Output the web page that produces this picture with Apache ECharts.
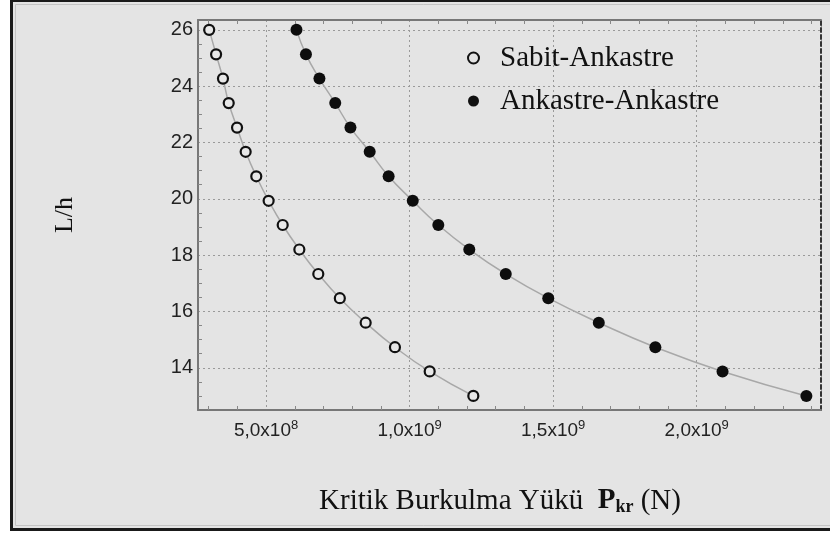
<!DOCTYPE html>
<html>
<head>
<meta charset="utf-8">
<script src="https://cdn.jsdelivr.net/npm/echarts@6/dist/echarts.min.js"></script>
<style>
  html, body { margin: 0; padding: 0; background: #fff; }
  #chart { width: 830px; height: 536px; }
</style>
</head>
<body>
<div id="chart"></div>
<script>
// L/h values (shared by both series)
const lhValues = [26, 25.13, 24.27, 23.4, 22.53, 21.67, 20.8, 19.93, 19.07, 18.2, 17.33, 16.47, 15.6, 14.73, 13.87, 13]
// Kritik burkulma yükü (N)
const sabitAnkastre = [3.02e8, 3.26e8, 3.5e8, 3.7e8, 3.99e8, 4.29e8, 4.66e8, 5.09e8, 5.58e8, 6.16e8, 6.82e8, 7.57e8, 8.47e8, 9.49e8, 1.07e9, 1.222e9]
const ankastreAnkastre = [6.06e8, 6.39e8, 6.86e8, 7.41e8, 7.94e8, 8.61e8, 9.27e8, 1.011e9, 1.1e9, 1.208e9, 1.335e9, 1.483e9, 1.659e9, 1.856e9, 2.09e9, 2.382e9]
const seriesNames = ['Sabit-Ankastre', 'Ankastre-Ankastre']

const bg = '#e4e4e4'
const serif = 'Liberation Serif'
const sans = 'Liberation Sans'

function pairs(xs) {
  return xs.map((x, i) => [x, lhValues[i]])
}

function sciLabel(v) {
  const exp = Math.floor(Math.log10(v))
  const mant = (v / Math.pow(10, exp)).toFixed(1).replace('.', ',')
  return mant + 'x10{sup|' + exp + '}'
}

const chart = echarts.init(document.getElementById('chart'))

const option = {
  backgroundColor: '#fff',
  animation: false,
  graphic: [
    {
      type: 'rect',
      shape: { x: 11.5, y: 0.5, width: 840, height: 529 },
      style: { fill: bg, stroke: '#1a1a1a', lineWidth: 3 },
      z: -10
    },
    {
      type: 'rect',
      shape: { x: 15.5, y: 4.5, width: 840, height: 521 },
      style: { fill: 'none', stroke: '#c4c4c4', lineWidth: 1 },
      z: -9
    }
  ],
  grid: {
    left: 198,
    top: 20,
    right: 9,
    bottom: 126
  },
  legend: {
    orient: 'vertical',
    left: 462,
    top: 38,
    itemWidth: 11,
    itemHeight: 11,
    itemGap: 13,
    icon: 'circle',
    textStyle: {
      fontFamily: serif,
      fontSize: 29,
      lineHeight: 30,
      color: '#111',
      padding: [0, 0, 0, 16]
    },
    data: [
      { name: seriesNames[0], itemStyle: { color: bg, borderColor: '#111', borderWidth: 2 } },
      { name: seriesNames[1], itemStyle: { color: '#111' } }
    ]
  },
  xAxis: [
    {
      type: 'value',
      min: 2.63e8,
      max: 2.433e9,
      minInterval: 5e8,
      maxInterval: 5e8,
      name: 'Kritik Burkulma Yükü  {b|P}{sub|kr} (N)',
      nameLocation: 'middle',
      nameGap: 76,
      nameTextStyle: {
        fontFamily: serif,
        fontSize: 29,
        color: '#111',
        padding: [0, 19, 0, 0],
        rich: {
          b: { fontFamily: serif, fontSize: 29, fontWeight: 'bold', color: '#111' },
          sub: { fontFamily: serif, fontSize: 18, fontWeight: 'bold', color: '#111', verticalAlign: 'bottom', padding: [12, 0, 0, 0] }
        }
      },
      axisLine: { show: true, lineStyle: { color: '#777', width: 2 } },
      axisTick: { show: false, inside: true },
      minorTick: { show: true, splitNumber: 5, length: 4, lineStyle: { color: '#888', width: 1 } },
      splitLine: { show: true, lineStyle: { color: '#9a9a9a', type: [2, 3], width: 1 } },
      axisLabel: {
        showMinLabel: false,
        showMaxLabel: false,
        margin: 9,
        formatter: sciLabel,
        fontFamily: sans,
        fontSize: 19,
        color: '#222',
        rich: {
          sup: { fontFamily: sans, fontSize: 13, color: '#222', verticalAlign: 'top', padding: [0, 0, 10, 0] }
        }
      }
    },
    {
      type: 'value',
      position: 'top',
      min: 2.63e8,
      max: 2.433e9,
      minInterval: 5e8,
      maxInterval: 5e8,
      axisLine: { show: true, lineStyle: { color: '#777', width: 2 } },
      axisTick: { show: false, inside: true },
      minorTick: { show: true, splitNumber: 5, length: 4, lineStyle: { color: '#888', width: 1 } },
      splitLine: { show: false },
      axisLabel: { show: false }
    }
  ],
  yAxis: [
    {
      type: 'value',
      min: 12.5,
      max: 26.35,
      minInterval: 2,
      maxInterval: 2,
      name: 'L/h',
      nameLocation: 'middle',
      nameGap: 120,
      nameTextStyle: { fontFamily: serif, fontSize: 26, color: '#111' },
      axisLine: { show: true, lineStyle: { color: '#777', width: 2 } },
      axisTick: { show: false, inside: true },
      minorTick: { show: true, splitNumber: 4, length: 4, lineStyle: { color: '#888', width: 1 } },
      splitLine: { show: true, lineStyle: { color: '#9a9a9a', type: [2, 3], width: 1 } },
      axisLabel: {
        showMinLabel: false,
        showMaxLabel: false,
        margin: 5,
        fontFamily: sans,
        fontSize: 20,
        color: '#222'
      }
    },
    {
      type: 'value',
      position: 'right',
      min: 12.5,
      max: 26.35,
      minInterval: 2,
      maxInterval: 2,
      axisLine: { show: true, lineStyle: { color: '#333', width: 2, type: [4, 3] } },
      axisTick: { show: false },
      splitLine: { show: false },
      axisLabel: { show: false }
    }
  ],
  series: [
    {
      name: seriesNames[0],
      type: 'line',
      smooth: true,
      data: pairs(sabitAnkastre),
      symbol: 'circle',
      symbolSize: 10,
      lineStyle: { color: '#a8a8a8', width: 1.5 },
      itemStyle: { color: '#e8e8e8', borderColor: '#111', borderWidth: 2.2 },
      z: 5
    },
    {
      name: seriesNames[1],
      type: 'line',
      smooth: true,
      data: pairs(ankastreAnkastre),
      symbol: 'circle',
      symbolSize: 12,
      lineStyle: { color: '#a8a8a8', width: 1.5 },
      itemStyle: { color: '#0d0d0d' },
      z: 5
    }
  ]
}

chart.setOption(option)
</script>
</body>
</html>
